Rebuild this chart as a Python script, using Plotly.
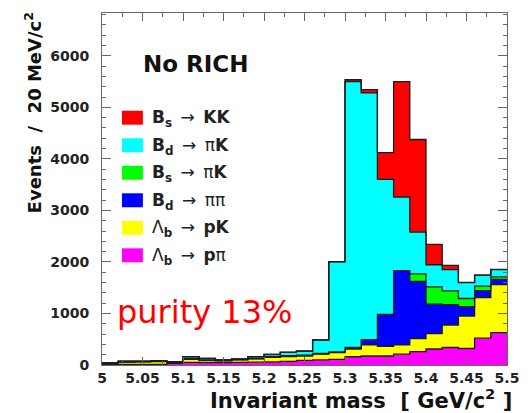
import numpy as np
import plotly.graph_objects as go

# 20 MeV/c^2 bins from 5.00 to 5.50 GeV/c^2
bin_edges = [round(5.00 + 0.02 * i, 2) for i in range(26)]

# Events per bin for each decay channel (stacked bottom to top)
lb_ppi = [10, 10, 10, 10, 30, 50, 45, 45, 50, 55, 60, 70, 90, 100, 110, 160, 175, 175, 210, 260, 310, 340, 320, 520, 630]
lb_pk = [15, 40, 50, 55, 15, 60, 40, 35, 50, 65, 90, 95, 85, 110, 130, 150, 215, 185, 180, 250, 300, 435, 630, 790, 930]
bd_pipi = [10, 5, 5, 5, 5, 10, 10, 5, 5, 5, 10, 10, 10, 10, 10, 20, 100, 620, 1440, 1110, 570, 395, 180, 135, 100]
bs_pik = [0, 0, 0, 0, 0, 5, 5, 3, 5, 5, 5, 5, 5, 5, 5, 10, 0, 0, 0, 150, 335, 270, 160, 85, 50]
bd_pik = [10, 20, 10, 12, 12, 35, 28, 9, 5, 30, 40, 65, 80, 260, 1745, 5160, 4790, 2620, 1430, 810, 430, 410, 310, 212, 142]
bs_kk = [0, 2, 2, 2, 3, 2, 2, 1, 2, 2, 2, 3, 2, 2, 5, 35, 65, 520, 2240, 1795, 395, 85, 5, 3, 3]

channels = [lb_ppi, lb_pk, bd_pipi, bs_pik, bd_pik, bs_kk]
colors = ["#ff00ff", "#ffff00", "#0000ff", "#00ff00", "#00ffff", "#ff0000"]

# Legend entries, top to bottom
SP = "\u2002"
ARROW = "<span style='font-weight:normal'>→</span>"
legend_labels = [
    f"B<sub>s</sub>{SP}{ARROW}{SP}KK",
    f"B<sub>d</sub>{SP}{ARROW}{SP}<span style='font-weight:normal'>π</span>K",
    f"B<sub>s</sub>{SP}{ARROW}{SP}<span style='font-weight:normal'>π</span>K",
    f"B<sub>d</sub>{SP}{ARROW}{SP}<span style='font-weight:normal'>ππ</span>",
    f"<span style='font-weight:normal'>Λ</span><sub>b</sub>{SP}{ARROW}{SP}pK",
    f"<span style='font-weight:normal'>Λ</span><sub>b</sub>{SP}{ARROW}{SP}p<span style='font-weight:normal'>π</span>",
]
legend_colors = ["#ff0000", "#00ffff", "#00ff00", "#0000ff", "#ffff00", "#ff00ff"]

x_tick_values = [5.0, 5.05, 5.1, 5.15, 5.2, 5.25, 5.3, 5.35, 5.4, 5.45, 5.5]
x_tick_labels = ["5", "5.05", "5.1", "5.15", "5.2", "5.25", "5.3", "5.35", "5.4", "5.45", "5.5"]
y_tick_values = [0, 1000, 2000, 3000, 4000, 5000, 6000]
y_tick_labels = ["0", "1000", "2000", "3000", "4000", "5000", "6000"]

W, H = 531, 413
ML, MR, MT, MB = 102, 13, 12, 48
PW, PH = W - ML - MR, H - MT - MB


def px(x):
    return (x - ML) / PW


def py(y):
    return (H - MB - y) / PH


FONT = "DejaVu Sans"
NB = "\u00a0"
fig = go.Figure()

cum = np.zeros(len(bin_edges) - 1)
for i, (vals, col) in enumerate(zip(channels, colors)):
    cum = cum + np.array(vals, dtype=float)
    ys = list(cum) + [cum[-1]]
    fig.add_trace(go.Scatter(
        x=bin_edges, y=ys, mode="lines", line_shape="hv",
        line=dict(color="#1c1c1c", width=1.3),
        fill="tozeroy" if i == 0 else "tonexty", fillcolor=col,
        showlegend=False, hoverinfo="skip",
    ))

shapes = []
annotations = []

# Legend boxes and labels
row0, dy = 117.0, 27.6
for k, (lab, col) in enumerate(zip(legend_labels, legend_colors)):
    yc = row0 + k * dy
    shapes.append(dict(type="rect", xref="paper", yref="paper",
                       x0=px(122.5), x1=px(144), y0=py(yc + 7), y1=py(yc - 7),
                       fillcolor=col, line=dict(width=0), layer="above"))
    annotations.append(dict(text=lab, xref="paper", yref="paper",
                            x=px(151), y=py(yc + 1), xanchor="left", yanchor="middle",
                            showarrow=False,
                            font=dict(family=FONT, size=17, weight="bold", color="#222")))

annotations.append(dict(text="No RICH", xref="paper", yref="paper",
                        x=px(198), y=py(63), xanchor="center", yanchor="middle",
                        showarrow=False,
                        font=dict(family=FONT, size=23, weight="bold", color="#111")))
annotations.append(dict(text="purity 13%", xref="paper", yref="paper",
                        x=px(207), y=py(312), xanchor="center", yanchor="middle",
                        showarrow=False,
                        font=dict(family=FONT, size=32, color="#ff0000")))
annotations.append(dict(text=f"Invariant mass{NB}{NB}[{NB}GeV/c<sup>2</sup>{NB}]", xref="paper", yref="paper",
                        x=px(525), y=py(399), xanchor="right", yanchor="middle",
                        showarrow=False,
                        font=dict(family=FONT, size=21, weight="bold", color="#111")))
annotations.append(dict(text=f"Events{NB}{NB}/{NB}{NB}20 MeV/c<sup>2</sup>", xref="paper", yref="paper",
                        x=px(31), y=py(9), xanchor="center", yanchor="top",
                        textangle=-90, showarrow=False,
                        font=dict(family=FONT, size=18, weight="bold", color="#111")))

axis_common = dict(
    showline=True, mirror="allticks", linecolor="#666", linewidth=1,
    ticks="inside", tickcolor="#666", showgrid=False, zeroline=False,
)

fig.update_layout(
    width=W, height=H,
    margin=dict(l=ML, r=MR, t=MT, b=MB, pad=0),
    paper_bgcolor="white", plot_bgcolor="white",
    showlegend=False,
    shapes=shapes, annotations=annotations,
    xaxis=dict(range=[5.0, 5.5], tickvals=x_tick_values, ticktext=x_tick_labels,
               ticklen=8, ticklabelstandoff=0,
               minor=dict(dtick=0.025, ticklen=4, ticks="inside", tickcolor="#666"),
               tickfont=dict(family=FONT, size=14, weight="bold", color="#222"),
               **axis_common),
    yaxis=dict(range=[0, 6830], tickvals=y_tick_values, ticktext=y_tick_labels,
               ticklen=9, ticklabelstandoff=9,
               minor=dict(dtick=200, ticklen=4, ticks="inside", tickcolor="#666"),
               tickfont=dict(family=FONT, size=14, weight="bold", color="#222"),
               **axis_common),
)

fig.write_html("out.html")
